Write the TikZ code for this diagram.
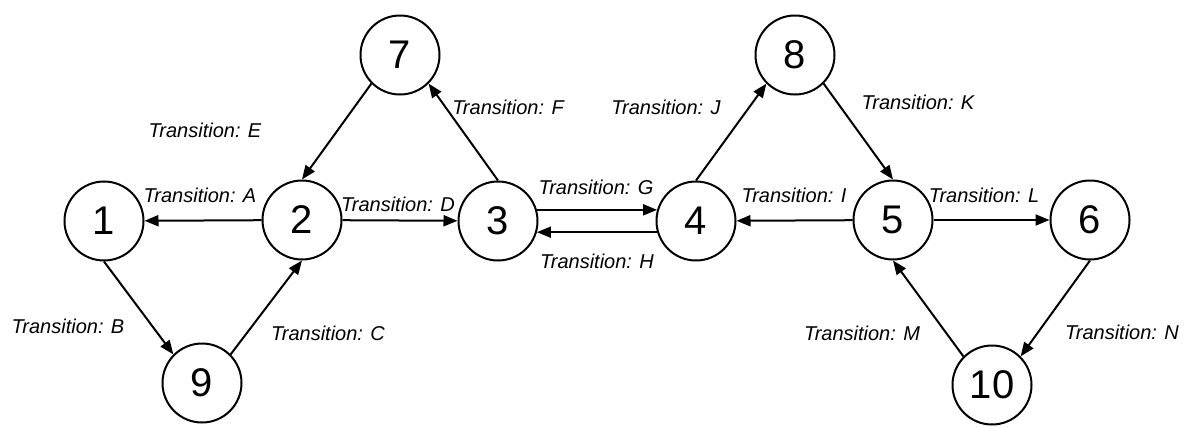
\documentclass[tikz,border=0pt]{standalone}
\usepackage{fontspec}
\setmainfont{Liberation Sans}
\usetikzlibrary{arrows.meta}
\begin{document}
\begin{tikzpicture}[x=1pt,y=-1pt,
  state/.style={circle,draw,line width=2pt,minimum size=79pt,inner sep=0pt,font=\fontsize{40}{44}\selectfont},
  tlabel/.style={inner sep=0pt,font=\fontsize{20}{24}\selectfont\itshape},
  conn/.style={line width=2pt,-{Triangle[length=14pt,width=11pt]}}]
\useasboundingbox (0,0) rectangle (1186,426);
\node[state] (n1) at (104,221) {1};
\node[state] (n2) at (302,220) {2};
\node[state] (n7) at (400,55) {7};
\node[state] (n3) at (498,221) {3};
\node[state] (n4) at (696,221) {4};
\node[state] (n8) at (795,55) {8};
\node[state] (n5) at (893,220) {5};
\node[state] (n6) at (1090,220) {6};
\node[state] (n9) at (202,383) {9};
\node[state] (n10) at (992,385) {10};
\draw[conn] (n2) -- (n1);
\draw[conn] (n1.south) -- (n9.north west);
\draw[conn] (n9.north east) -- (n2.south);
\draw[conn] (n2) -- (n3);
\draw[conn] (n7.south west) -- (n2.north);
\draw[conn] (n3.north) -- (n7.south east);
\draw[conn] (n3.16) -- (n4.164);
\draw[conn] (n4.196) -- (n3.344);
\draw[conn] (n4.north) -- (n8.south west);
\draw[conn] (n8.south east) -- (n5.north);
\draw[conn] (n5) -- (n4);
\draw[conn] (n5) -- (n6);
\draw[conn] (n10.north west) -- (n5.south);
\draw[conn] (n6.south) -- (n10.north east);
\node[tlabel] (la) at (200,195) {Transition: A};
\node[tlabel] (lb) at (68,326) {Transition: B};
\node[tlabel] (lc) at (328,333) {Transition: C};
\node[tlabel] (ld) at (398,204) {Transition: D};
\node[tlabel] (le) at (205,130) {Transition: E};
\node[tlabel] (lf) at (508,107) {Transition: F};
\node[tlabel] (lg) at (596,187) {Transition: G};
\node[tlabel] (lh) at (597,261) {Transition: H};
\node[tlabel] (lj) at (666,107) {Transition: J};
\node[tlabel] (li) at (794,195) {Transition: I};
\node[tlabel] (lk) at (918,102) {Transition: K};
\node[tlabel] (ll) at (984,195) {Transition: L};
\node[tlabel] (lm) at (862,333) {Transition: M};
\node[tlabel] (ln) at (1122,332) {Transition: N};
\end{tikzpicture}
\end{document}
